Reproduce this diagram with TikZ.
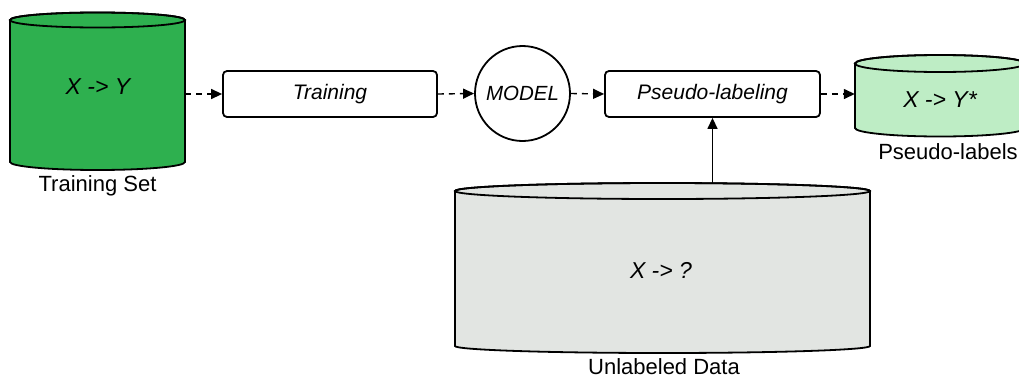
\documentclass[tikz,border=0pt]{standalone}
\usepackage{fontspec}
\setmainfont{Liberation Sans}
\usetikzlibrary{arrows.meta,fit}
\definecolor{tgreen}{HTML}{2EB04F}
\definecolor{lgreen}{HTML}{BEEDC5}
\definecolor{lgray}{HTML}{E2E5E2}
\newcommand\dbcyl[8]{%
  % #1 name, #2 x1, #3 x2, #4 top centre y, #5 bottom centre y, #6 top ry, #7 bottom ry, #8 fill
  \pgfmathsetmacro\cylrx{(#3-#2)/2}%
  \pgfmathsetmacro\cylcx{(#3+#2)/2}%
  \filldraw[cylline,fill=#8] (#2,#4) -- (#2,#5)
     arc[start angle=180,end angle=360,x radius=\cylrx pt,y radius=#7pt]
     -- (#3,#4)
     arc[start angle=0,end angle=180,x radius=\cylrx pt,y radius=#6pt] -- cycle;
  \draw[cylline] (\cylcx,#4) ellipse[x radius=\cylrx pt,y radius=#6pt];
  \path (#2,#4+#6) coordinate (#1-nw) (#3,#5-#7) coordinate (#1-se);
  \node[fit=(#1-nw)(#1-se),inner sep=0pt] (#1) {};
}
\tikzset{
  cylline/.style={draw=black,line width=1.8pt},
  procbox/.style={draw=black,line width=1.8pt,rounded corners=4pt,minimum height=46pt,inner sep=0pt,fill=white,font=\fontsize{21}{23}\selectfont\itshape},
  dataarrow/.style={line width=1.4pt,dash pattern=on 6pt off 5pt,-{Triangle[length=11pt,width=10pt]}},
  solidarrow/.style={line width=1.4pt,-{Triangle[length=11pt,width=10pt]}},
  intext/.style={font=\fontsize{23}{25}\selectfont\itshape},
  captext/.style={font=\fontsize{22}{24}\selectfont},
}
\begin{document}
\begin{tikzpicture}[x=1pt,y=1pt]
\useasboundingbox (0,0) rectangle (1019,-378);
\clip (0,0) rectangle (1019,-378);
% Training set
\dbcyl{tset}{10}{185}{-20}{-162}{7.5}{8}{tgreen}
\node[intext] (tsettext) at (98,-87) {X -> Y};
\node[captext] (tsetcap) at (97.5,-186) {Training Set};
% Training box
\node[procbox,minimum width=214pt] (train) at (330,-94) {Training};
% Model
\node[draw=black,line width=1.8pt,circle,minimum size=95pt,inner sep=0pt,font=\fontsize{20.5}{22}\selectfont\itshape] (model) at (522.5,-93.5) {MODEL};
% Pseudo-labeling box
\node[procbox,minimum width=215pt] (plab) at (712.5,-94) {Pseudo-labeling};
% Pseudo-labels cylinder
\dbcyl{pset}{855}{1025}{-63.5}{-128}{8.5}{8.5}{lgreen}
\node[intext] (psettext) at (940,-100) {X -> Y*};
\node[captext] (psetcap) at (948,-152) {Pseudo-labels};
% Unlabeled data
\dbcyl{uset}{455}{870}{-191}{-346}{8}{7}{lgray}
\node[intext] (usettext) at (661,-270) {X -> ?};
\node[captext] (usetcap) at (664,-367) {Unlabeled Data};
% connectors
\draw[dataarrow] (tset.east |- train.west) -- (train.west);
\draw[dataarrow] (train.east) -- (model.west);
\draw[dataarrow] (model.east) -- (plab.west);
\draw[dataarrow] (plab.east) -- (pset.west |- plab.east);
\draw[solidarrow] (uset.north -| plab.south) -- (plab.south);
\end{tikzpicture}
\end{document}
